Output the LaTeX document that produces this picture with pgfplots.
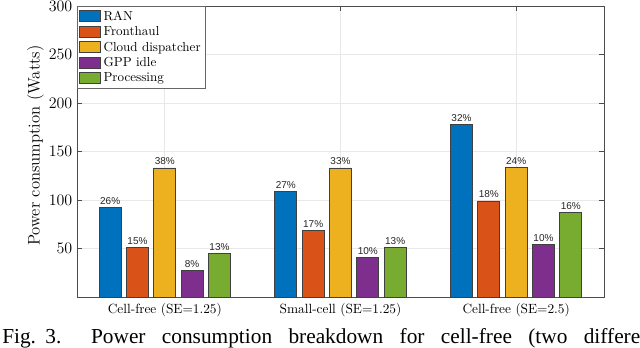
\documentclass[border=0pt]{standalone}
\usepackage{fontspec}
\newfontfamily\pctfont{Liberation Sans}
\newfontfamily\capfont{Liberation Serif}
\usepackage{pgfplots}
\pgfplotsset{compat=1.18}

% MATLAB default colour order
\definecolor{cRAN}{rgb}{0,0.447,0.741}
\definecolor{cFH}{rgb}{0.850,0.325,0.098}
\definecolor{cCD}{rgb}{0.929,0.694,0.125}
\definecolor{cGPP}{rgb}{0.494,0.184,0.556}
\definecolor{cPR}{rgb}{0.466,0.674,0.188}

\begin{document}
\begin{tikzpicture}
\useasboundingbox (-57.75pt,-37.5pt) rectangle (422.25pt,222.75pt);
\begin{axis}[
    scale only axis, width=395.25pt, height=218.25pt,
    xmin=0.5, xmax=3.5, ymin=0, ymax=300,
    ybar=4pt, bar width=16.5pt,
    xtick={1,2,3},
    xticklabels={Cell-free (SE=1.25), Small-cell (SE=1.25), Cell-free (SE=2.5)},
    ytick={50,100,...,300},
    ylabel={Power consumption (Watts)},
    ylabel style={at={(axis description cs:-0.079,0.52)}, anchor=center, font=\fontsize{12.5}{14}\selectfont},
    x tick label style={font=\fontsize{10}{12}\selectfont, yshift=-1pt},
    y tick label style={font=\fontsize{12.5}{14}\selectfont},
    tick align=inside, major tick length=4pt,
    xmajorgrids, ymajorgrids,
    major grid style={black!9, line width=0.5pt},
    axis line style={black!70, line width=0.5pt},
    tick style={black!70, line width=0.5pt},
    every axis plot/.append style={draw=black!75, line width=0.5pt},
    point meta=explicit symbolic,
    nodes near coords={\pgfplotspointmeta\%},
    every node near coord/.append style={font=\pctfont\fontsize{7.5}{9}\selectfont, text=black!85, inner sep=2pt},
    legend style={at={(0,1)}, anchor=north west, draw=black!60, fill=white,
        font=\fontsize{9.8}{11}\selectfont, inner sep=1.5pt, row sep=-0.8pt},
    legend cell align=left,
    legend image code/.code={\draw[#1] (0pt,-3.9pt) rectangle (15.75pt,4.4pt);},
]
\addplot[fill=cRAN] coordinates {(1,92) [26] (2,108.5) [27] (3,178) [32]};
\addplot[fill=cFH] coordinates {(1,51) [15] (2,69) [17] (3,99) [18]};
\addplot[fill=cCD] coordinates {(1,133) [38] (2,133) [33] (3,133.5) [24]};
\addplot[fill=cGPP] coordinates {(1,27) [8] (2,41) [10] (3,54) [10]};
\addplot[fill=cPR] coordinates {(1,45) [13] (2,51.3) [13] (3,87) [16]};
\legend{RAN, Fronthaul, Cloud dispatcher, GPP idle, Processing}
\end{axis}
% caption of the figure, justified and cut at the right edge as in the source
\node[anchor=base west, inner sep=0pt, font=\capfont\fontsize{16}{18}\selectfont]
  at (-56.25pt,-34.6pt) {\hbox to 478.5pt{Fig.\hskip 7pt 3.\hskip 14pt plus 1fil
    Power\hskip 4pt plus 1fil consumption\hskip 4pt plus 1fil breakdown\hskip 4pt plus 1fil
    for\hskip 4pt plus 1fil cell-free\hskip 4pt plus 1fil (two\hskip 4pt plus 1fil
    differe\rlap{nt}}};
\end{tikzpicture}
\end{document}
